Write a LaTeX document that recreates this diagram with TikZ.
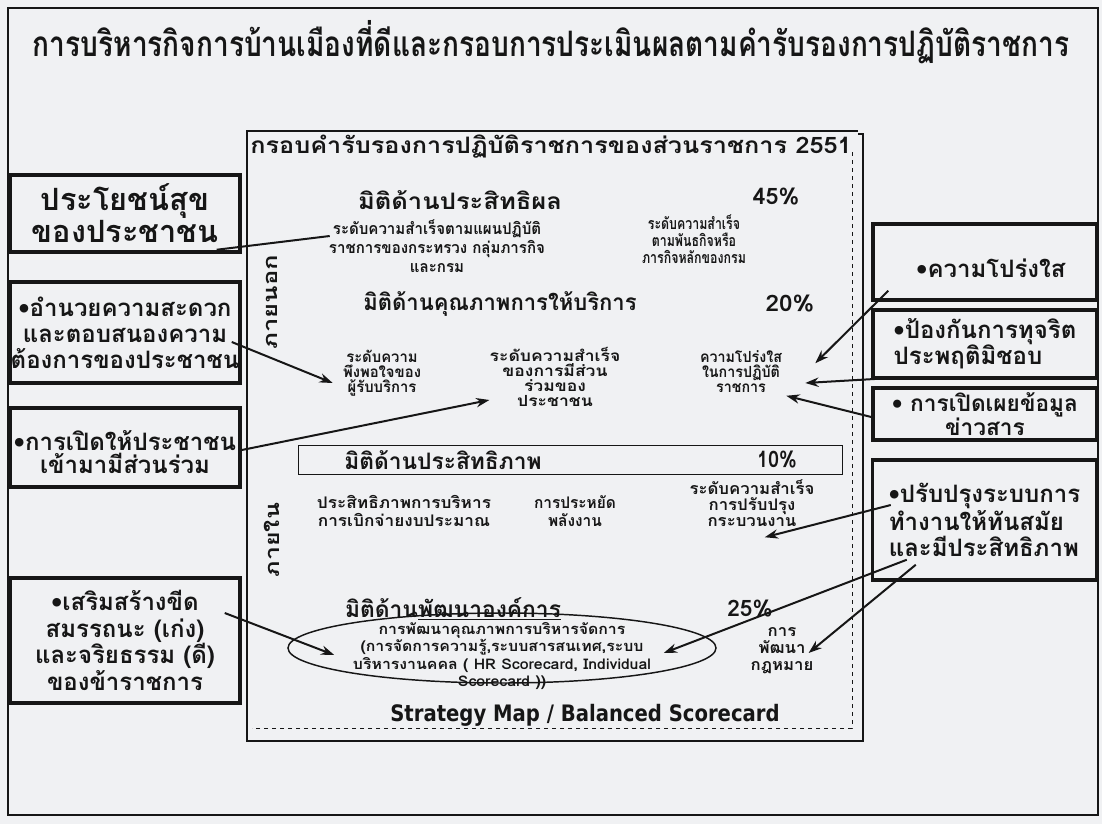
\documentclass[tikz,border=0pt]{standalone}
\usepackage{fontspec}
\usepackage{graphicx}
\usetikzlibrary{arrows.meta,calc,shapes.geometric}
\setmainfont[Script=Thai]{Loma}
\newfontfamily\tahfont{DejaVu Sans}
\definecolor{paper}{RGB}{240,241,243}
\definecolor{ink}{RGB}{22,22,22}
\newcommand\fw[2]{\resizebox{#1}{\height}{#2}}
\newcommand\sm[1]{\smash{#1}}
\newcommand\ml[4]{\resizebox{#1}{\height}{\fontsize{#2}{#3}\selectfont\begin{tabular}{@{}c@{}}#4\end{tabular}}}
\begin{document}
\begin{tikzpicture}[x=0.75pt,y=-0.75pt,
  box/.style={draw=ink,line width=2.6pt,fill=paper,inner sep=0pt,text=ink,font=\bfseries\fontsize{18}{19.5}\selectfont},
  arr/.style={draw=ink,line width=1.5pt,-{Stealth[length=10pt,width=7pt]}},
  ln/.style={draw=ink,line width=1.5pt},
  tt/.style={text=ink,inner sep=0pt,font=\bfseries},
  dimf/.style={text=ink,inner sep=0pt,font=\bfseries\fontsize{17}{19}\selectfont},
  side/.style={text=ink,inner sep=0pt,rotate=90,font=\bfseries\fontsize{15}{17}\selectfont}]
\fill[paper] (0,0) rectangle (1102,824);
\useasboundingbox (0,0) rectangle (1102,824);
% outer frame
\draw[ink,line width=1.2pt] (8,8) rectangle (1098,815);
\node[tt] (title) at (551,42) {\resizebox{777pt}{!}{\scalebox{1}[1.25]{\bfseries การบริหารกิจการบ้านเมืองที่ดีและกรอบการประเมินผลตามคำรับรองการปฏิบัติราชการ}}};
% panel
\draw[ink,line width=0.9pt] (858,131) -- (247,131) -- (247,741) -- (863,741) -- (863,134) -- (858,134);
\draw[ink,line width=0.6pt,dashed] (852,152) -- (852,728) -- (252,728);
\node[tt,font=\bfseries\fontsize{17}{19}\selectfont] (hdr) at (551,147) {\fw{451pt}{กรอบคำรับรองการปฏิบัติราชการของส่วนราชการ 2551}};
% dimension 1
\node[dimf] (d1) at (460,200) {\fw{153pt}{มิติด้านประสิทธิผล}};
\node[dimf] (p1) at (776,197) {\fw{35pt}{45\%}};
\node[tt] (s1) at (437,250) {\ml{162pt}{12}{14.25pt}{\sm{ระดับความสำเร็จตามแผนปฏิบัติ}\\\sm{ราชการของกระทรวง กลุ่มภารกิจ}\\\sm{และกรม}}};
\node[tt] (s2) at (694,243) {\ml{78pt}{12}{12.75pt}{\sm{ระดับความสำเร็จ}\\\sm{ตามพันธกิจหรือ}\\\sm{ภารกิจหลักของกรม}}};
\node[side] (outside) at (272,302) {\fw{71pt}{ภายนอก}};
% dimension 2
\node[dimf] (d2) at (500,304) {\fw{205pt}{มิติด้านคุณภาพการให้บริการ}};
\node[dimf] (p2) at (790,304) {\fw{36.5pt}{20\%}};
\node[tt] (s3) at (382,374) {\ml{58.5pt}{11.5}{11.25pt}{\sm{ระดับความ}\\\sm{พึงพอใจของ}\\\sm{ผู้รับบริการ}}};
\node[tt] (s4) at (555,381) {\ml{98pt}{11.5}{11.25pt}{\sm{ระดับความสำเร็จ}\\\sm{ของการมีส่วน}\\\sm{ร่วมของ}\\\sm{ประชาชน}}};
\node[tt] (s5) at (741,374) {\ml{61.5pt}{11.5}{11.25pt}{\sm{ความโปร่งใส}\\\sm{ในการปฏิบัติ}\\\sm{ราชการ}}};
% dimension 3
\node[draw=ink,line width=0.7pt,minimum width=408pt,minimum height=21.75pt,inner sep=0pt] (dbox) at (570,459.5) {};
\node[dimf] (d3) at (443,460) {\fw{148pt}{มิติด้านประสิทธิภาพ}};
\node[dimf] (p3) at (777,460) {\fw{30pt}{10\%}};
\node[tt] (s6) at (404,514) {\ml{130.5pt}{12}{13.5pt}{\sm{ประสิทธิภาพการบริหาร}\\\sm{การเบิกจ่ายงบประมาณ}}};
\node[tt] (s7) at (575,514) {\ml{61.5pt}{12}{13.5pt}{\sm{การประหยัด}\\\sm{พลังงาน}}};
\node[tt] (s8) at (752,507) {\ml{93.75pt}{12}{12pt}{\sm{ระดับความสำเร็จ}\\\sm{การปรับปรุง}\\\sm{กระบวนงาน}}};
\node[side] (inside) at (272,540) {\fw{55.5pt}{ภายใน}};
% dimension 4
\node[dimf] (d4) at (453,609) {\fw{162pt}{มิติด้าน\underline{พัฒนาองค์การ}}};
\node[dimf] (p4) at (750,609) {\fw{34pt}{25\%}};
\node[draw=ink,line width=1.1pt,ellipse,minimum width=321pt,minimum height=52.5pt,inner sep=0pt] (ell) at (502,648) {};
\node[tt] (s9) at (502,657) {\ml{223.5pt}{11}{13.1pt}{\sm{การพัฒนาคุณภาพการบริหารจัดการ}\\\sm{(การจัดการความรู้,ระบบสารสนเทศ,ระบบ}\\\sm{บริหารงานคคล ( HR Scorecard, Individual}\\\sm{Scorecard ))}}};
\node[tt] (s10) at (782,650) {\ml{47pt}{12}{12.75pt}{\sm{การ}\\\sm{พัฒนา}\\\sm{กฎหมาย}}};
\node[tt] (sm) at (585,715) {\fw{292pt}{\tahfont\bfseries\fontsize{17}{19}\selectfont Strategy Map / Balanced Scorecard}};
% left boxes
\node[box,minimum width=172.5pt,minimum height=57.75pt,font=\bfseries\fontsize{23}{24}\selectfont,align=center] (L1) at (125,213.5) {ประโยชน์สุข\\ของประชาชน};
\node[box,minimum width=172.5pt,minimum height=75.75pt,align=center] (L2) at (125,332.5) {•อำนวยความสะดวก\\และตอบสนองความ\\ต้องการของประชาชน};
\node[box,minimum width=172.5pt,minimum height=59.25pt] (L3) at (125,447.5) {};
\node[tt,align=center,font=\bfseries\fontsize{18}{17.5}\selectfont] (L3t) at (125,452) {•การเปิดให้ประชาชน\\เข้ามามีส่วนร่วม};
\node[box,minimum width=172.5pt,minimum height=93.75pt,align=center,font=\bfseries\fontsize{18}{20}\selectfont] (L4) at (125,640.5) {•เสริมสร้างขีด\\สมรรถนะ (เก่ง)\\และจริยธรรม (ดี)\\ของข้าราชการ};
% right boxes
\node[box,minimum width=168pt,minimum height=57pt] (B1) at (985,262) {};
\node[tt,font=\bfseries\fontsize{18}{19.5}\selectfont] (B1t) at (991,268) {•ความโปร่งใส};
\node[box,minimum width=168pt,minimum height=51pt,align=left] (B2) at (985,344) {•ป้องกันการทุจริต\\ประพฤติมิชอบ};
\node[box,minimum width=168pt,minimum height=39pt,align=center,font=\bfseries\fontsize{17}{17}\selectfont] (B3) at (985,414) {• การเปิดเผยข้อมูล\\ข่าวสาร};
\node[box,minimum width=168pt,minimum height=90pt,align=left] (B4) at (984.5,520) {•ปรับปรุงระบบการ\\ทำงานให้ทันสมัย\\และมีประสิทธิภาพ};
% connectors
\draw[ln] ($(L1.south east)+(-25,-4)$) -- ($(s1.west)+(1,-14)$);
\draw[arr] ($(L2.east)+(-10,9.5)$) -- ($(s3.west)+(-10,9)$);
\draw[arr] ($(L3.east)+(0,2.5)$) -- ($(s4.west)+(0,19)$);
\draw[arr] ($(B1.south west)+(17,-11)$) -- ($(s5.north east)+(33,12)$);
\draw[arr] ($(B2.south west)+(25,-2)$) -- ($(s5.east)+(23,9)$);
\draw[arr] ($(B3.west)+(0,3)$) -- ($(s5.south east)+(4,-1)$);
\draw[arr] ($(B4.west)+(20,-15)$) -- ($(s8.south east)+(-50,6)$);
\draw[arr] ($(B4.south west)+(36,-22)$) -- ($(ell.east)+(-53,5)$);
\draw[arr] ($(B4.south west)+(45,-17)$) -- ($(s10.east)+(-5,3)$);
\draw[arr] ($(L4.east)+(-17,-27.5)$) -- ($(ell.west)+(47,7)$);
\end{tikzpicture}
\end{document}
